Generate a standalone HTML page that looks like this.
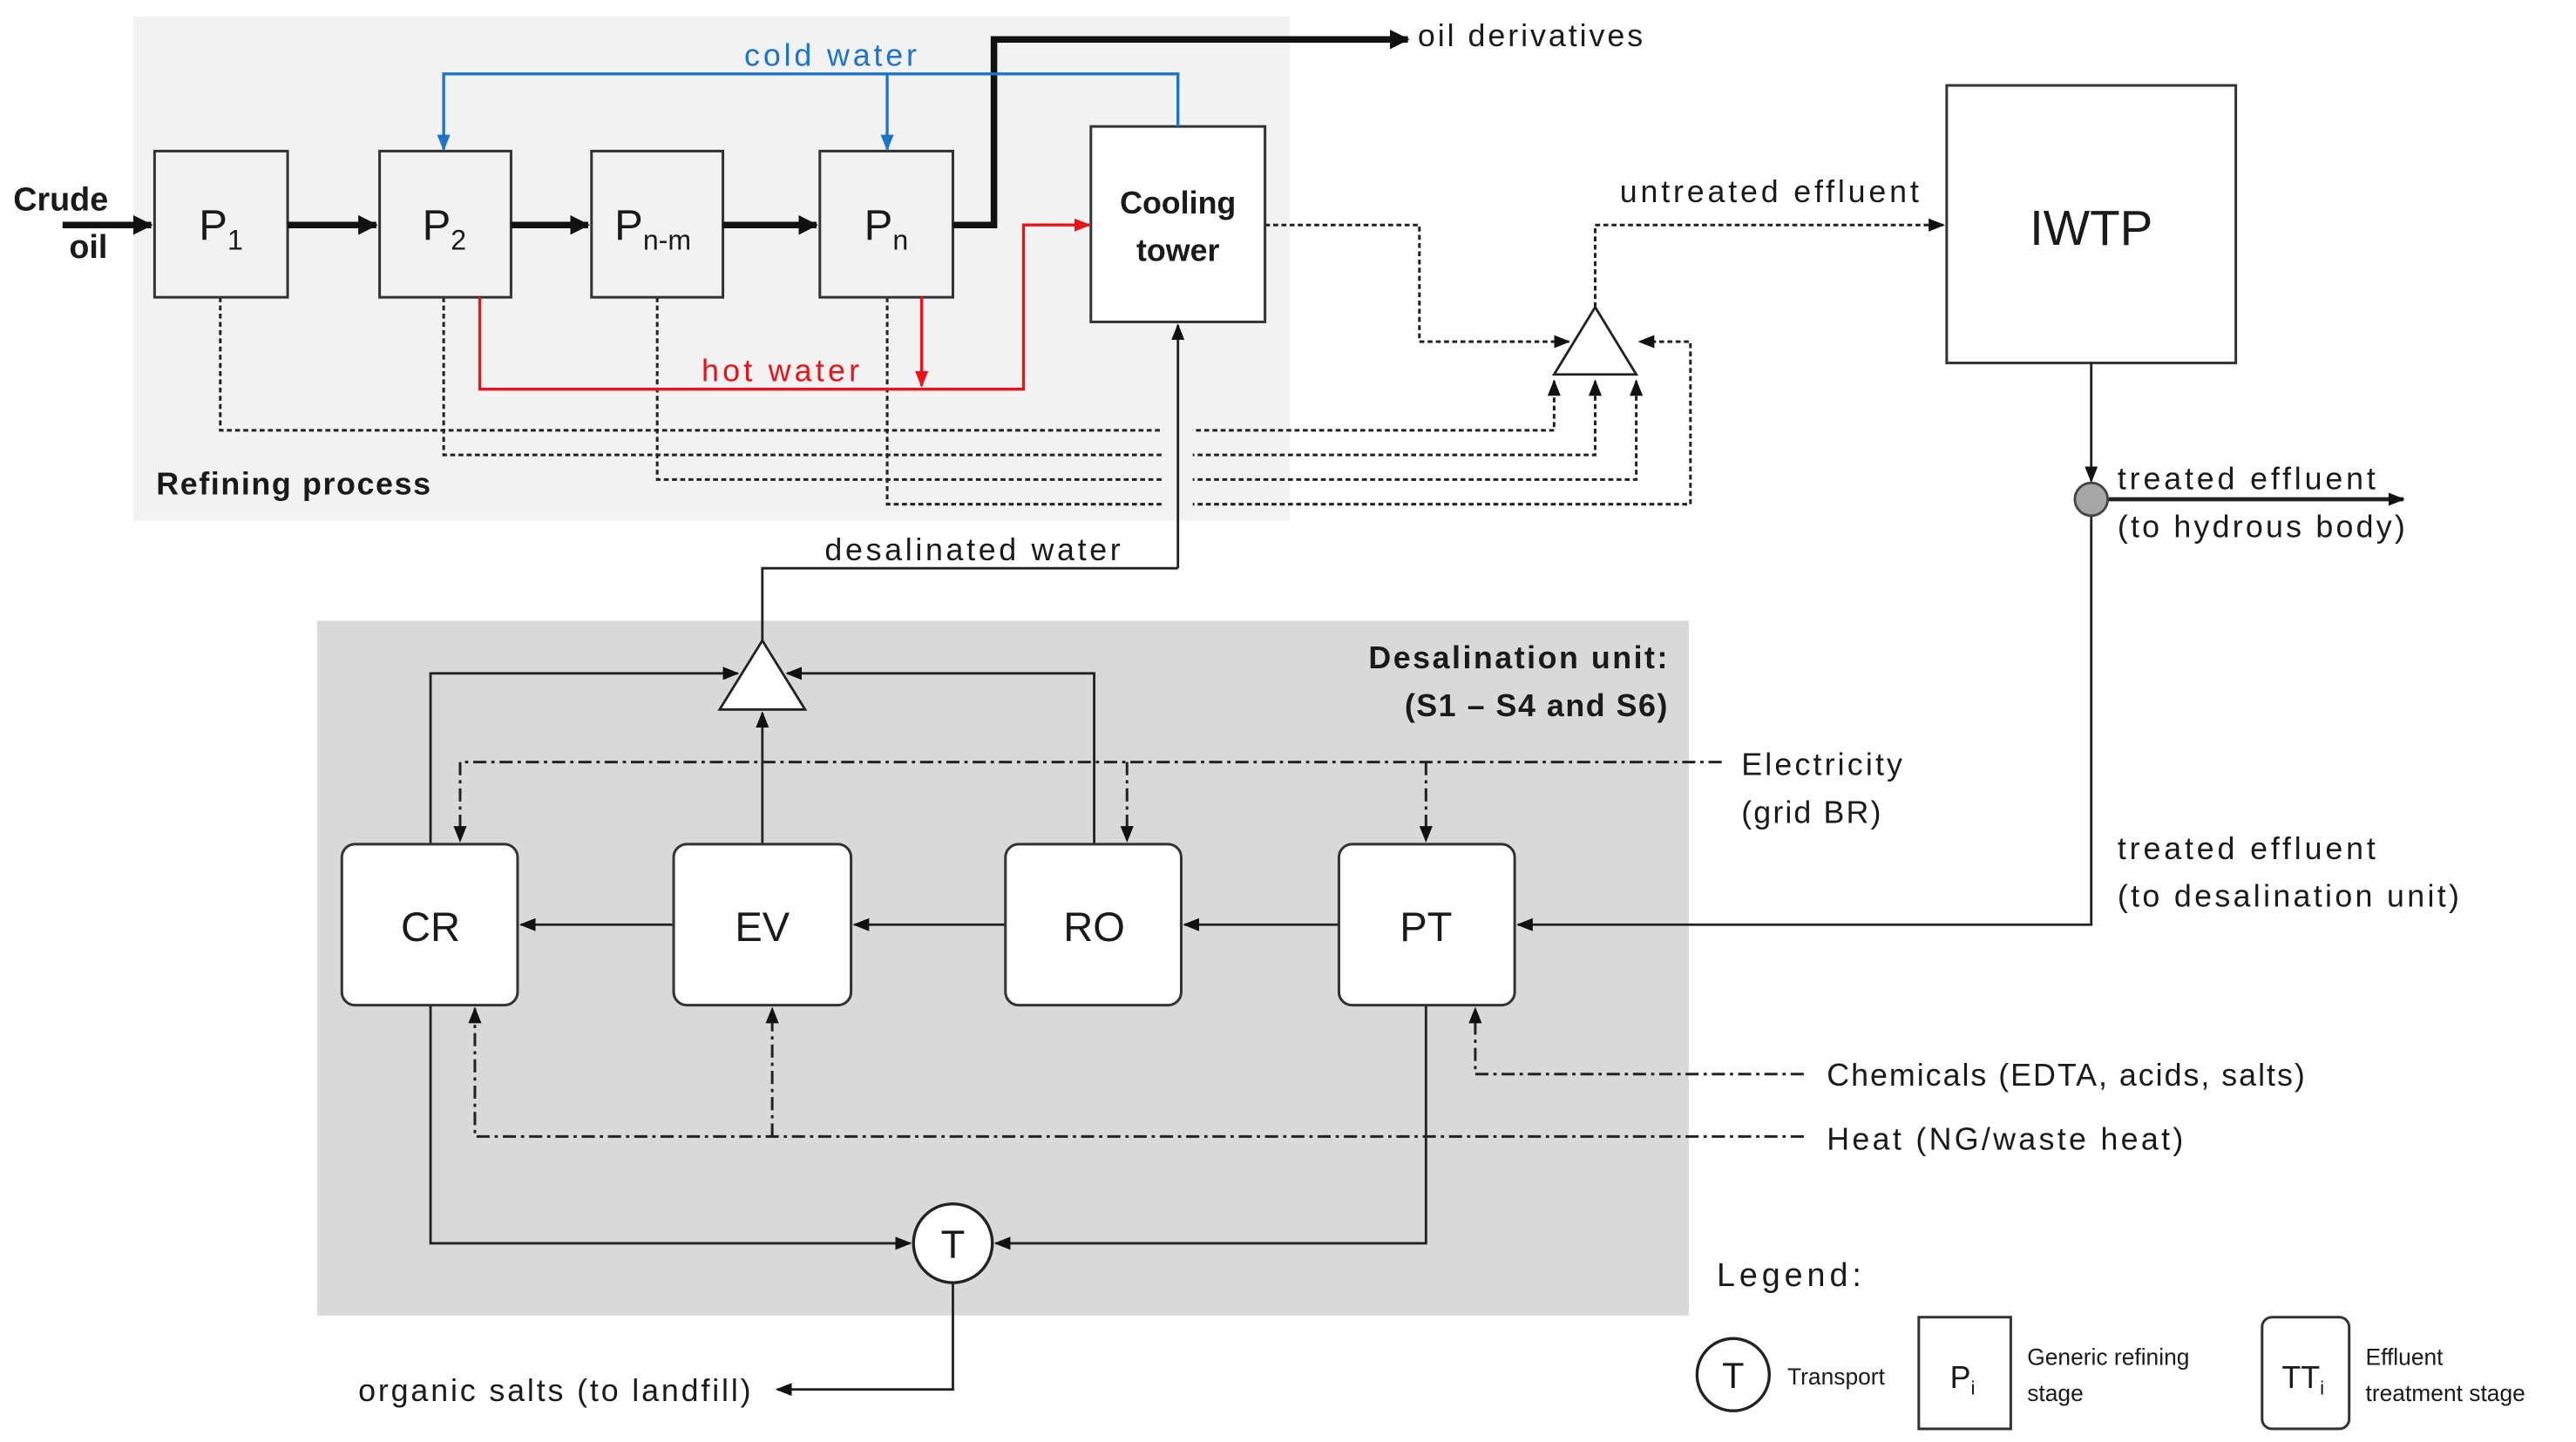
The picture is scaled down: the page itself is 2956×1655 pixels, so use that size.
<!DOCTYPE html>
<html><head><meta charset="utf-8"><style>
html,body{margin:0;padding:0;background:#fff;}
svg{display:block;}
text{font-family:"Liberation Sans",sans-serif;fill:#1a1a1a;}
</style></head><body>
<svg width="2956" height="1655" viewBox="0 0 1568 878" xmlns="http://www.w3.org/2000/svg">
<defs>
<marker id="a" markerWidth="10" markerHeight="10" refX="9" refY="5" orient="auto" markerUnits="userSpaceOnUse"><path d="M0,1 L10,5 L0,9 z" fill="#111"/></marker>
<marker id="ab" markerWidth="12" markerHeight="12" refX="11" refY="6" orient="auto" markerUnits="userSpaceOnUse"><path d="M0,0 L12,6 L0,12 z" fill="#111"/></marker>
<marker id="ar" markerWidth="10" markerHeight="10" refX="9" refY="5" orient="auto" markerUnits="userSpaceOnUse"><path d="M0,1 L10,5 L0,9 z" fill="#e8141a"/></marker>
<marker id="abl" markerWidth="10" markerHeight="10" refX="9" refY="5" orient="auto" markerUnits="userSpaceOnUse"><path d="M0,1 L10,5 L0,9 z" fill="#1c75c8"/></marker>
</defs>
<rect x="81" y="10" width="704" height="307" fill="#f2f2f2"/>
<rect x="193" y="378" width="835" height="423" fill="#d9d9d9"/>

<!-- dashed effluent lines -->
<g fill="none" stroke="#222" stroke-width="1.6" stroke-dasharray="3,2">
<path d="M134,181 V262 H946 V232" marker-end="url(#a)"/>
<path d="M270,181 V277 H971 V232" marker-end="url(#a)"/>
<path d="M400,181 V292 H996 V232" marker-end="url(#a)"/>
<path d="M540,181 V307 H1029 V208 H998" marker-end="url(#a)"/>
<path d="M770,137 H864 V208 H955" marker-end="url(#a)"/>
<path d="M971,187 V137 H1183" marker-end="url(#a)"/>
</g>
<rect x="708" y="255" width="18" height="60" fill="#f2f2f2"/>
<!-- triangle 1 -->
<path d="M971,187 L946,228 L996,228 z" fill="#fff" stroke="#222" stroke-width="1.5"/>

<!-- boxes -->
<g fill="#f2f2f2" stroke="#333" stroke-width="1.6">
<rect x="94" y="92" width="81" height="89"/>
<rect x="231" y="92" width="80" height="89"/>
<rect x="360" y="92" width="80" height="89"/>
<rect x="499" y="92" width="81" height="89"/>
</g>
<rect x="664" y="77" width="106" height="119" fill="#fff" stroke="#333" stroke-width="1.6"/>
<rect x="1185" y="52" width="176" height="169" fill="#fff" stroke="#333" stroke-width="1.6"/>

<!-- thick flow -->
<g stroke="#111" stroke-width="4" fill="none">
<path d="M38,137 H92" marker-end="url(#ab)"/>
<path d="M175,137 H229" marker-end="url(#ab)"/>
<path d="M311,137 H358" marker-end="url(#ab)"/>
<path d="M440,137 H497" marker-end="url(#ab)"/>
<path d="M580,137 H605 V24 H857" marker-end="url(#ab)"/>
</g>
<!-- cold water -->
<g stroke="#1c75c8" stroke-width="1.8" fill="none">
<path d="M717,77 V45 H270 V91" marker-end="url(#abl)"/>
<path d="M540,45 V91" marker-end="url(#abl)"/>
</g>
<!-- hot water -->
<g stroke="#e8141a" stroke-width="1.8" fill="none">
<path d="M292,181 V237 H623 V137 H663" marker-end="url(#ar)"/>
<path d="M561,181 V235" marker-end="url(#ar)"/>
</g>

<text x="8" y="128" font-size="20" font-weight="bold">Crude</text>
<text x="42" y="157" font-size="20" font-weight="bold">oil</text>
<text x="121" y="146" font-size="26">P<tspan font-size="17" dy="6">1</tspan></text>
<text x="257" y="146" font-size="26">P<tspan font-size="17" dy="6">2</tspan></text>
<text x="374" y="146" font-size="26">P<tspan font-size="17" dy="6">n-m</tspan></text>
<text x="526" y="146" font-size="26">P<tspan font-size="17" dy="6">n</tspan></text>
<text x="717" y="130" font-size="19" font-weight="bold" text-anchor="middle">Cooling</text>
<text x="717" y="159" font-size="19" font-weight="bold" text-anchor="middle">tower</text>
<text x="453" y="40" font-size="19" fill="#1c75c8" style="fill:#1c75c8" textLength="105">cold water</text>
<text x="427" y="232" font-size="19" style="fill:#e8141a" textLength="96">hot water</text>
<text x="863" y="28" font-size="19" textLength="137">oil derivatives</text>
<text x="95" y="301" font-size="19" font-weight="bold" textLength="167">Refining process</text>
<text x="986" y="123" font-size="19" textLength="182">untreated effluent</text>
<text x="1273" y="149" font-size="30" text-anchor="middle">IWTP</text>

<!-- IWTP outflow -->
<g stroke="#222" stroke-width="1.5" fill="none">
<path d="M1273,221 V293" marker-end="url(#a)"/>
<path d="M1273,314 V563 H924" marker-end="url(#a)"/>
</g>
<path d="M1283,304 H1463" stroke="#222" stroke-width="2.5" marker-end="url(#a)"/>
<circle cx="1273" cy="304" r="10" fill="#a6a6a6" stroke="#444" stroke-width="1.5"/>
<text x="1289" y="298" font-size="19" textLength="157">treated effluent</text>
<text x="1289" y="327" font-size="19" textLength="175">(to hydrous body)</text>
<text x="1289" y="523" font-size="19" textLength="157">treated effluent</text>
<text x="1289" y="552" font-size="19" textLength="208">(to desalination unit)</text>

<!-- desalinated water -->
<g stroke="#222" stroke-width="1.5" fill="none">
<path d="M717,346 V198" marker-end="url(#a)"/>
<path d="M717,346 H464 V390"/>
<path d="M262,514 V410 H449" marker-end="url(#a)"/>
<path d="M666,514 V410 H479" marker-end="url(#a)"/>
<path d="M464,514 V434" marker-end="url(#a)"/>
<path d="M815,563 H721" marker-end="url(#a)"/>
<path d="M612,563 H520" marker-end="url(#a)"/>
<path d="M410,563 H317" marker-end="url(#a)"/>
<path d="M262,612 V757 H554" marker-end="url(#a)"/>
<path d="M868,612 V757 H606" marker-end="url(#a)"/>
<path d="M580,781 V846 H473" marker-end="url(#a)"/>
</g>
<text x="502" y="341" font-size="19" textLength="180">desalinated water</text>
<path d="M464,390 L438,432 L490,432 z" fill="#fff" stroke="#222" stroke-width="1.5"/>

<!-- dash-dot utilities -->
<g stroke="#222" stroke-width="1.6" fill="none" stroke-dasharray="8,3,2,3">
<path d="M1048,464 H280 V512" marker-end="url(#a)"/>
<path d="M686,464 V512" marker-end="url(#a)"/>
<path d="M868,464 V512" marker-end="url(#a)"/>
<path d="M1098,654 H898 V614" marker-end="url(#a)"/>
<path d="M1098,692 H289 V614" marker-end="url(#a)"/>
<path d="M470,692 V614" marker-end="url(#a)"/>
</g>

<g fill="#fff" stroke="#333" stroke-width="1.6">
<rect x="208" y="514" width="107" height="98" rx="8"/>
<rect x="410" y="514" width="108" height="98" rx="8"/>
<rect x="612" y="514" width="107" height="98" rx="8"/>
<rect x="815" y="514" width="107" height="98" rx="8"/>
</g>
<text x="262" y="573" font-size="25" text-anchor="middle">CR</text>
<text x="464" y="573" font-size="25" text-anchor="middle">EV</text>
<text x="666" y="573" font-size="25" text-anchor="middle">RO</text>
<text x="868" y="573" font-size="25" text-anchor="middle">PT</text>

<circle cx="580" cy="757" r="24" fill="#fff" stroke="#222" stroke-width="1.8"/>
<text x="580" y="766" font-size="24" text-anchor="middle">T</text>

<text x="1015" y="407" font-size="19" font-weight="bold" text-anchor="end" textLength="182">Desalination unit:</text>
<text x="1015" y="436" font-size="19" font-weight="bold" text-anchor="end" textLength="160">(S1 – S4 and S6)</text>
<text x="1060" y="472" font-size="19" textLength="98">Electricity</text>
<text x="1060" y="501" font-size="19" textLength="85">(grid BR)</text>
<text x="1112" y="661" font-size="19" textLength="291">Chemicals (EDTA, acids, salts)</text>
<text x="1112" y="700" font-size="19" textLength="217">Heat (NG/waste heat)</text>
<text x="218" y="853" font-size="19" textLength="239">organic salts (to landfill)</text>

<!-- legend -->
<text x="1045" y="783" font-size="20" textLength="88">Legend:</text>
<circle cx="1055" cy="837" r="22" fill="#fff" stroke="#222" stroke-width="1.8"/>
<text x="1055" y="845" font-size="22" text-anchor="middle">T</text>
<text x="1088" y="843" font-size="14">Transport</text>
<rect x="1168" y="802" width="56" height="68" fill="#fff" stroke="#333" stroke-width="1.6"/>
<text x="1187" y="845" font-size="19">P<tspan font-size="12" dy="4">i</tspan></text>
<text x="1234" y="831" font-size="14">Generic refining</text>
<text x="1234" y="853" font-size="14">stage</text>
<rect x="1377" y="802" width="53" height="68" rx="6" fill="#fff" stroke="#333" stroke-width="1.6"/>
<text x="1389" y="845" font-size="19">TT<tspan font-size="12" dy="4">i</tspan></text>
<text x="1440" y="831" font-size="14">Effluent</text>
<text x="1440" y="853" font-size="14">treatment stage</text>
</svg>
</body></html>
